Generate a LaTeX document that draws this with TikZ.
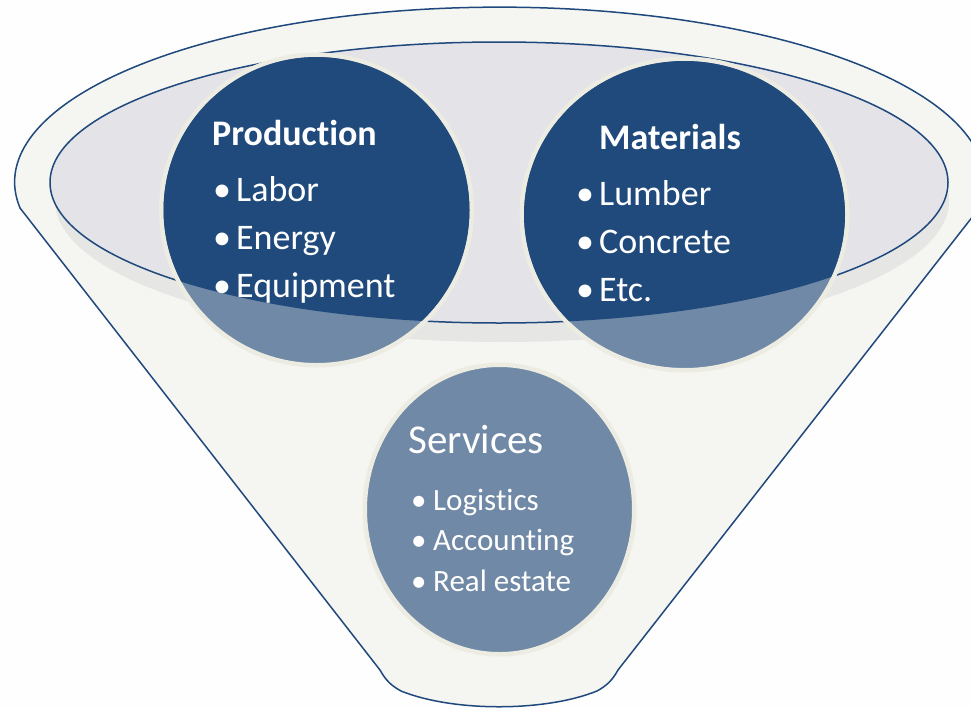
\documentclass[tikz,border=0pt]{standalone}
\usepackage{fontspec}
\setmainfont{Carlito}[Ligatures=NoCommon]
\usetikzlibrary{positioning}

\definecolor{rim}{HTML}{1F497D}
\definecolor{funnel}{HTML}{F5F5F1}
\definecolor{mouth}{HTML}{E3E3E8}
\definecolor{mouthshade}{HTML}{E6E6E4}
\definecolor{ring}{HTML}{EDECE2}
\definecolor{darkball}{HTML}{204A7C}
\definecolor{lightball}{HTML}{7089A6}

\newcommand{\bul}[1][23pt]{\makebox[#1][l]{\textbullet}}

\tikzset{
  lbl/.style={text=white,inner sep=0pt,anchor=base west},
  big/.style={lbl,font=\fontsize{36}{43}\selectfont},
  small/.style={lbl,font=\fontsize{31}{37}\selectfont}
}

\begin{document}
\begin{tikzpicture}[x=1pt,y=-1pt,line cap=round,line join=round]
        \useasboundingbox (0,0) rectangle (971,707);
        \clip (0,0) rectangle (971,707);
        \fill[white!98!mouth] (0,0) rectangle (971,707);
        % funnel body
        \filldraw[fill=funnel,draw=rim,line width=1.5pt] (20,208) arc[start angle=171.5,end angle=368.5,x radius=485,y radius=175]
          -- (618,670) .. controls (612,681) and (606,686) .. (597,691)
          .. controls (545,712) and (453,712) .. (401,691)
          .. controls (392,686) and (386,681) .. (380,670) -- cycle;
        % mouth
        \fill[mouthshade] (502,201) ellipse[x radius=447,y radius=141];
        \fill[mouth] (499,182.5) ellipse[x radius=449,y radius=140.5];
        \draw[rim,line width=1.5pt] (499,182.5) ellipse[x radius=449,y radius=140.5];
        % balls
        \foreach \cx/\cy/\rx/\ry in {316.5/210/153/153,684.5/214.5/160.5/153.5,499.5/509.5/132.5/142.5}
        \filldraw[fill=lightball,draw=ring,line width=4.5pt] (\cx,\cy) ellipse[x radius=\rx+2.25,y radius=\ry+2.25];
        \begin{scope}
          \clip (499,182.5) ellipse[x radius=449,y radius=140.5];
          \foreach \cx/\cy/\rx/\ry in {316.5/210/153/153,684.5/214.5/160.5/153.5}
          \fill[darkball] (\cx,\cy) ellipse[x radius=\rx,y radius=\ry];
          \node[big,font=\fontsize{36}{43}\selectfont\bfseries] (prodtitle) at (212,145) {Production};
          \foreach \t [count=\i] in {Labor,Energy,Equipment}
          \node[big] (prod\i) at (213,{201+48*(\i-1)}) {\bul\t};
          \node[big,font=\fontsize{36}{43}\selectfont\bfseries] (mattitle) at (599,149) {Materials};
          \foreach \t [count=\i] in {Lumber,Concrete,Etc.}
          \node[big] (mat\i) at (576,{205.5+48*(\i-1)}) {\bul\t};
        \end{scope}
        \node[lbl,font=\fontsize{41}{49}\selectfont] (servtitle) at (408,453) {Services};
        \foreach \t [count=\i] in {Logistics,Accounting,Real estate}
        \node[small] (serv\i) at (411,{510+40.5*(\i-1)}) {\bul[22pt]\t};
      \end{tikzpicture}
\end{document}
